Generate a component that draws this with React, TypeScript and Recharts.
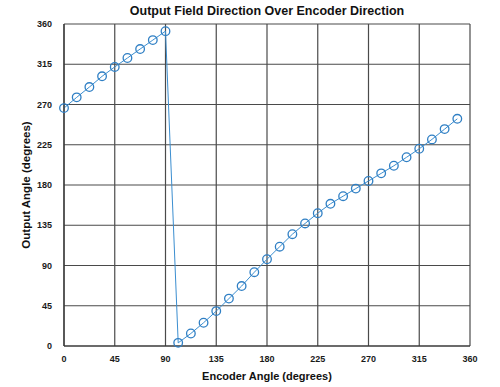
import React from 'react'
import { LineChart, Line, XAxis, YAxis, CartesianGrid, Label } from 'recharts'

const encoderAngles = [
  0, 11.25, 22.5, 33.75, 45, 56.25, 67.5, 78.75, 90,
  101.25, 112.5, 123.75, 135, 146.25, 157.5,
  168.75, 180, 191.25, 202.5, 213.75, 225, 236.25,
  247.5, 258.75, 270, 281.25, 292.5, 303.75, 315, 326.25, 337.5, 348.75,
]

const outputAngles = [
  266, 278, 289.5, 301.5, 312, 322, 332, 342, 352,
  3.5, 14, 26, 39, 53, 67,
  82.5, 97, 111, 125, 137, 148.5, 159,
  167.5, 176, 184.5, 193, 201.5, 211, 220.5, 231, 242.5, 254,
]

const angleTicks = [0, 45, 90, 135, 180, 225, 270, 315, 360]

const data = encoderAngles.map((x, i) => ({ x, y: outputAngles[i] }))

const font = 'Arial, "Liberation Sans", sans-serif'
const tickStyle = { fontSize: 9, fontWeight: 'bold', fill: '#1a1a1a', fontFamily: font }

export default function App() {
  return (
    <div style={{ position: 'absolute', left: 0, top: 0, width: 500, height: 387, background: '#fff' }}>
      <div
        style={{
          position: 'absolute',
          top: 4,
          left: 64,
          width: 406,
          textAlign: 'center',
          fontFamily: font,
          fontWeight: 'bold',
          fontSize: 12.5,
          color: '#111',
        }}
      >
        Output Field Direction Over Encoder Direction
      </div>
      <LineChart
        width={500}
        height={387}
        data={data}
        margin={{ top: 24, right: 30, left: 24, bottom: 21 }}
      >
        <CartesianGrid stroke="#4a4a4a" strokeWidth={1.2} />
        <XAxis
          type="number"
          dataKey="x"
          domain={[0, 360]}
          ticks={angleTicks}
          tick={tickStyle}
          tickLine={false}
          axisLine={{ stroke: '#333', strokeWidth: 1.2 }}
          height={20}
          tickMargin={4}
        >
          <Label
            value="Encoder Angle (degrees)"
            position="insideBottom"
            offset={-14}
            style={{ fontSize: 11, fontWeight: 'bold', fill: '#111', fontFamily: font }}
          />
        </XAxis>
        <YAxis
          type="number"
          domain={[0, 360]}
          ticks={angleTicks}
          tick={tickStyle}
          tickLine={false}
          axisLine={{ stroke: '#333', strokeWidth: 1.2 }}
          width={40}
          tickMargin={6}
        >
          <Label
            value="Output Angle (degrees)"
            angle={-90}
            position="insideLeft"
            offset={2}
            style={{ fontSize: 11.5, fontWeight: 'bold', fill: '#111', fontFamily: font, textAnchor: 'middle' }}
          />
        </YAxis>
        <Line
          type="linear"
          dataKey="y"
          stroke="#3b8ed0"
          strokeWidth={1}
          dot={{ r: 4.3, stroke: '#2f7fc4', strokeWidth: 1.3, fill: 'none' }}
          isAnimationActive={false}
        />
      </LineChart>
    </div>
  )
}
